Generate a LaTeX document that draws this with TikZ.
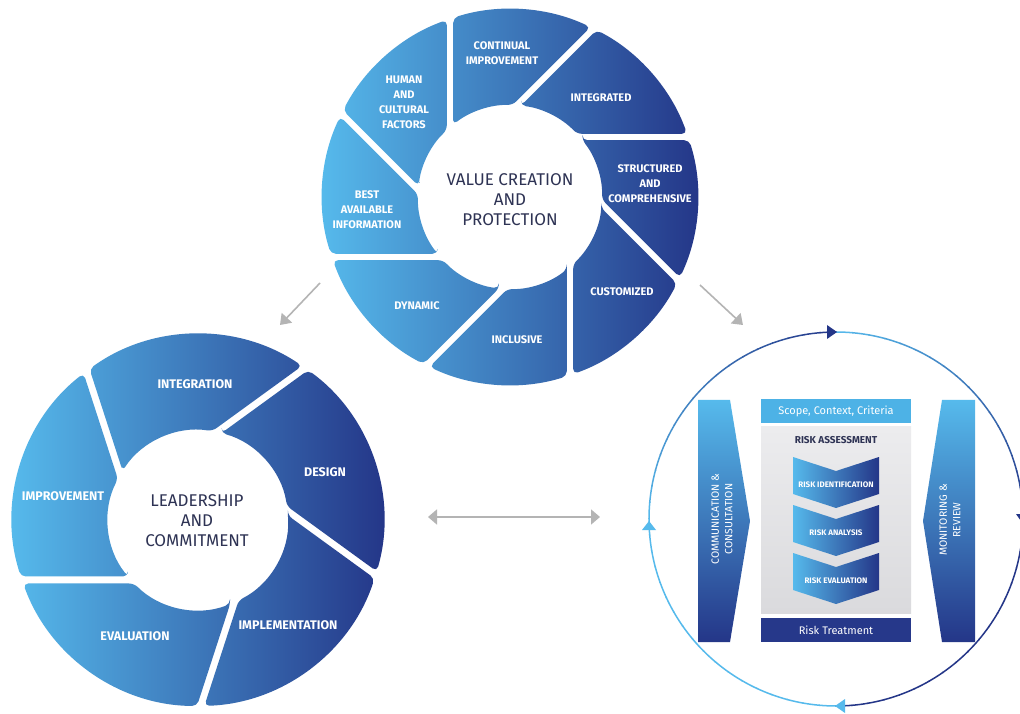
\documentclass[tikz,border=0pt]{standalone}
\usepackage{fontspec}
\setmainfont{Fira Sans}
\usetikzlibrary{arrows.meta}
\definecolor{lblue}{RGB}{86,186,236}
\definecolor{dnavy}{RGB}{36,54,136}
\definecolor{boxblue}{RGB}{77,178,230}
\definecolor{treat}{RGB}{38,56,138}
\definecolor{ctext}{RGB}{46,51,84}
\definecolor{garrow}{RGB}{180,180,180}
\definecolor{gboxa}{RGB}{236,236,238}
\definecolor{gboxb}{RGB}{218,218,221}
\tikzset{
  seglab/.style={text=white,font=\bfseries\fontsize{11}{15}\selectfont,align=center,inner sep=0pt},
  seglabb/.style={text=white,font=\bfseries\fontsize{12.5}{15}\selectfont,align=center,inner sep=0pt},
  hublab/.style={text=ctext,font=\fontsize{17}{20}\selectfont,align=center,inner sep=0pt},
  chevlab/.style={text=white,font=\bfseries\fontsize{8}{10}\selectfont,inner sep=0pt},
  boxlab/.style={text=white,font=\fontsize{11}{13}\selectfont,inner sep=0pt},
  asslab/.style={text=ctext,font=\bfseries\fontsize{10}{12}\selectfont,inner sep=0pt},
  sidelab/.style={text=white,font=\fontsize{10.5}{13.5}\selectfont,align=center,inner sep=0pt,rotate=90},
  grayarrow/.style={draw=garrow,line width=1.6pt,-{Triangle[length=10pt,width=14pt]}},
  grayboth/.style={draw=garrow,line width=1.6pt,{Triangle[length=9pt,width=15pt]}-{Triangle[length=9pt,width=15pt]}},
}
\begin{document}
\begin{tikzpicture}[x=1pt,y=1pt]
\useasboundingbox (0,0) rectangle (1020,713);
\fill[white] (0,0) rectangle (1020,713);

% ---------- wheel 1 : principles ----------
\begin{scope}[shift={(510,516)}]
 \clip[rounded corners=5pt] foreach \k in {0,...,7} {
   ({90-45*\k+asin(56.8/92)}:92) -- ({90-45*\k+asin(56.8/188)}:188)
   arc[start angle={90-45*\k+asin(56.8/188)}, end angle={45-45*\k+asin(63.2/188)}, radius=188]
   -- ({45-45*\k+asin(63.2/92)}:92)
   arc[start angle={45-45*\k+asin(63.2/92)}, end angle={90-45*\k+asin(56.8/92)}, radius=92]
   -- cycle };
 \shade[left color=lblue, right color=dnavy] (-190,-190) rectangle (190,190);
\end{scope}

\node[seglab] (p1) at (502,660) {CONTINUAL\\IMPROVEMENT};
\node[seglab] (p2) at (601,615) {INTEGRATED};
\node[seglab] (p3) at (650,529) {STRUCTURED\\AND\\COMPREHENSIVE};
\node[seglab] (p4) at (622,421) {CUSTOMIZED};
\node[seglab] (p5) at (517,373) {INCLUSIVE};
\node[seglab] (p6) at (417,407) {DYNAMIC};
\node[seglab] (p7) at (367,503) {BEST\\AVAILABLE\\INFORMATION};
\node[seglab] (p8) at (404,611) {HUMAN\\AND\\CULTURAL\\FACTORS};
\node[hublab] (hub1) at (510,513) {VALUE CREATION\\AND\\PROTECTION};

% ---------- wheel 2 : framework ----------
\begin{scope}[shift={(198,193)}]
 \clip[rounded corners=5pt] foreach \k in {0,...,4} {
   ({180-72*\k+asin(56.5/90)}:90) -- ({180-72*\k+asin(56.5/186)}:186)
   arc[start angle={180-72*\k+asin(56.5/186)}, end angle={108-72*\k+asin(63.5/186)}, radius=186]
   -- ({108-72*\k+asin(63.5/90)}:90)
   arc[start angle={108-72*\k+asin(63.5/90)}, end angle={180-72*\k+asin(56.5/90)}, radius=90]
   -- cycle };
 \shade[left color=lblue, right color=dnavy] (-188,-188) rectangle (188,188);
\end{scope}

\node[seglabb] (f1) at (195,329) {INTEGRATION};
\node[seglabb] (f2) at (325,241) {DESIGN};
\node[seglabb] (f3) at (288,88) {IMPLEMENTATION};
\node[seglabb] (f4) at (135,77) {EVALUATION};
\node[seglabb] (f5) at (63,217) {IMPROVEMENT};
\node[hublab] (hub2) at (197,192) {LEADERSHIP\\AND\\COMMITMENT};

% ---------- process ring ----------
\begin{scope}[shift={(836,194)}]
 \foreach \i in {0,...,71} {
   \pgfmathsetmacro\ts{180-5*\i}
   \pgfmathsetmacro\te{\ts-5.3}
   \pgfmathsetmacro\tm{\ts-2.5}
   \pgfmathtruncatemacro\pc{\tm>90 ? (180-\tm)/90*100 : (\tm>0 ? (90-\tm)/90*100 : (\tm>-90 ? 100 : 0))}
   \draw[draw=dnavy!\pc!lblue, line width=1.5pt] (\ts:187) arc[start angle=\ts, end angle=\te, radius=187];
 }
\end{scope}
\fill[dnavy] (827,388) -- (837,381) -- (827,374) -- cycle;
\fill[dnavy] (1016,199) -- (1030,199) -- (1023,189) -- cycle;
\fill[lblue] (845,14) -- (845,0) -- (835,7) -- cycle;
\fill[lblue] (642,183) -- (656,183) -- (649,192) -- cycle;

% side arrows
\shade[top color=lblue, bottom color=dnavy] (698,313) -- (730,313) -- (750,192) -- (730,71) -- (698,71) -- cycle;
\shade[top color=lblue, bottom color=dnavy] (942,313) -- (975,313) -- (975,71) -- (942,71) -- (923,192) -- cycle;
\node[sidelab] (comm) at (722,194) {COMMUNICATION \&\\CONSULTATION};
\node[sidelab] (mon) at (950,193) {MONITORING \&\\REVIEW};

% central column
\fill[boxblue] (761,290) rectangle (911,314);
\node[boxlab] (scope) at (836,302) {Scope, Context, Criteria};
\shade[top color=gboxa, bottom color=gboxb] (761,100) rectangle (911,286);
\node[asslab] (ass) at (836,273) {RISK ASSESSMENT};
\foreach \i/\t in {0/RISK IDENTIFICATION,1/RISK ANALYSIS,2/RISK EVALUATION} {
  \shade[left color=lblue, right color=dnavy]
    (793,{256-48*\i}) -- (836,{242-48*\i}) -- (879,{256-48*\i}) -- (879,{219-48*\i})
    -- (836,{205-48*\i}) -- (793,{219-48*\i}) -- cycle;
  \node[chevlab] (chev\i) at (836,{228-48*\i}) {\t};
}
\fill[treat] (761,71) rectangle (911,95);
\node[boxlab] (treatn) at (836,83) {Risk Treatment};

% ---------- gray connectors ----------
\coordinate (a1s) at (320,430); \coordinate (a1e) at (280,388);
\coordinate (a2s) at (700,428); \coordinate (a2e) at (743,388);
\coordinate (a3s) at (428,196); \coordinate (a3e) at (600,196);
\draw[grayarrow] (a1s) -- (a1e);
\draw[grayarrow] (a2s) -- (a2e);
\draw[grayboth] (a3s) -- (a3e);
\end{tikzpicture}
\end{document}
